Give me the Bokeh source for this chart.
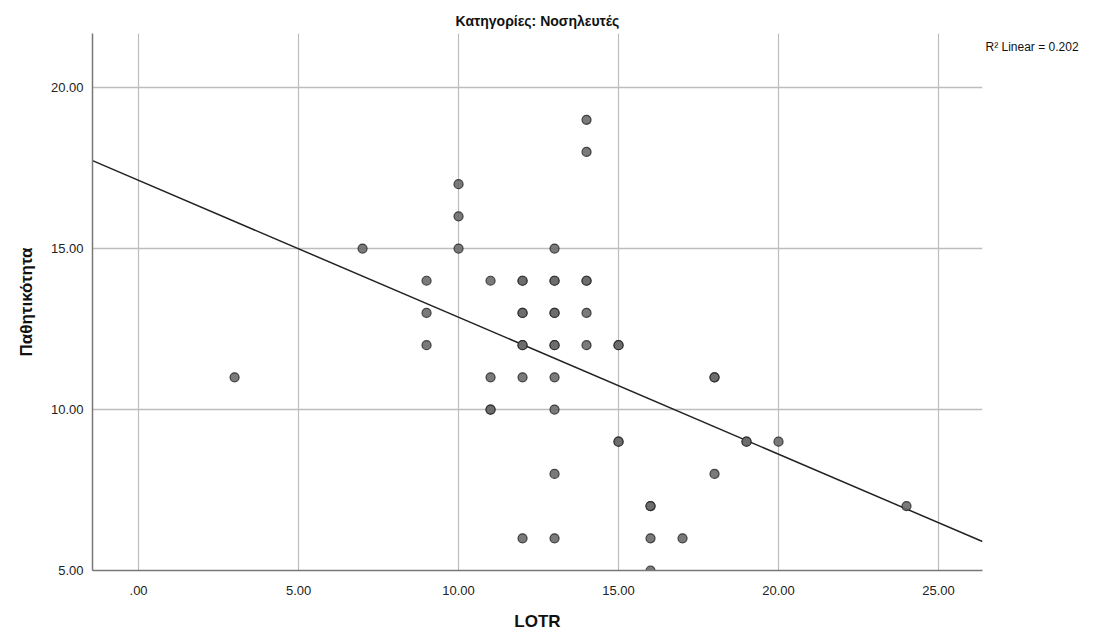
from bokeh.plotting import figure
from bokeh.models import FixedTicker, Range1d, LinearAxis, ColumnDataSource
from bokeh.embed import file_html
from bokeh.resources import INLINE

# LOTR scores vs. passivity scores (nurses)
lotr = [3, 7, 9, 9, 9, 10, 10, 10, 11, 11, 11, 11,
        12, 12, 12, 12, 12, 12, 12, 12,
        13, 13, 13, 13, 13, 13, 13, 13, 13, 13, 13,
        14, 14, 14, 14, 14, 14,
        15, 15, 15, 15, 16, 16, 16, 16, 17, 18, 18, 18, 19, 19, 20, 24]
passivity = [11, 15, 14, 13, 12, 17, 16, 15, 14, 11, 10, 10,
             14, 13, 13, 12, 12, 11, 6, 14,
             15, 14, 13, 13, 12, 12, 11, 10, 8, 6, 14,
             19, 18, 14, 14, 13, 12,
             12, 12, 9, 9, 7, 7, 6, 5, 6, 11, 11, 8, 9, 9, 9, 7]

# fit line read as intercept / slope
fit_intercept = 17.12
fit_slope = -0.4254
r2_text = "R\u00b2 Linear = 0.202"
r2_level = 21.25  # height at which the fit statistic sits, right of the frame

x_ticks = [0, 5, 10, 15, 20, 25]
x_tick_labels = [".00", "5.00", "10.00", "15.00", "20.00", "25.00"]
y_ticks = [5, 10, 15, 20]
y_tick_labels = ["5.00", "10.00", "15.00", "20.00"]

x0, x1 = -1.44, 26.375
y0, y1 = 5.0, 21.68

p = figure(width=1100, height=637, output_backend="svg", toolbar_location=None,
           x_range=Range1d(x0, x1), y_range=Range1d(y0, y1),
           min_border_left=92, min_border_right=118, min_border_top=33, min_border_bottom=67,
           title="Κατηγορίες: Νοσηλευτές")
p.outline_line_color = None
p.background_fill_color = "white"

p.title.align = "center"
p.title.text_font = "Liberation Sans"
p.title.text_font_style = "bold"
p.title.text_font_size = "14px"
p.title.text_color = "#111111"

for ax, ticks, labels in ((p.xaxis[0], x_ticks, x_tick_labels), (p.yaxis[0], y_ticks, y_tick_labels)):
    ax.ticker = FixedTicker(ticks=ticks)
    ax.major_label_overrides = {t: l for t, l in zip(ticks, labels)}
    ax.major_tick_line_color = None
    ax.minor_tick_line_color = None
    ax.axis_line_color = "#777777"
    ax.axis_line_width = 1.5
    ax.major_label_text_font = "Liberation Sans"
    ax.major_label_text_font_size = "13px"
    ax.major_label_text_color = "#222222"
    ax.axis_label_text_font = "Liberation Sans"
    ax.axis_label_text_font_style = "bold"
    ax.axis_label_text_font_size = "17px"
    ax.axis_label_text_color = "#111111"

p.xaxis.axis_label = "LOTR"
p.yaxis.axis_label = "Παθητικότητα"
p.xaxis.major_label_standoff = 9
p.xaxis.axis_label_standoff = 14
p.yaxis.major_label_standoff = 3
p.yaxis.axis_label_standoff = 12

p.xgrid.grid_line_color = "#bdbdbd"
p.ygrid.grid_line_color = "#bdbdbd"
p.xgrid.grid_line_width = 1.2
p.ygrid.grid_line_width = 1.5

# fit statistic as a lone label on a bare right-hand axis
r2_axis = LinearAxis(ticker=FixedTicker(ticks=[r2_level]),
                     major_label_overrides={r2_level: r2_text},
                     axis_line_color=None, major_tick_line_color=None,
                     minor_tick_line_color=None, major_label_standoff=-3,
                     major_label_text_font="Liberation Sans",
                     major_label_text_font_size="12px",
                     major_label_text_color="#111111")
p.add_layout(r2_axis, "right")

# regression line across the full x range
fit_x = [x0, x1]
fit_y = [fit_intercept + fit_slope * v for v in fit_x]
p.line(fit_x, fit_y, line_color="#222222", line_width=1.5)

src = ColumnDataSource(dict(x=lotr, y=passivity))
p.scatter("x", "y", source=src, size=9, fill_color="#6b6b6b", fill_alpha=0.9,
          line_color="#2a2a2a", line_width=1.2, line_alpha=0.85)

open("out.html", "w").write(file_html(p, INLINE))
